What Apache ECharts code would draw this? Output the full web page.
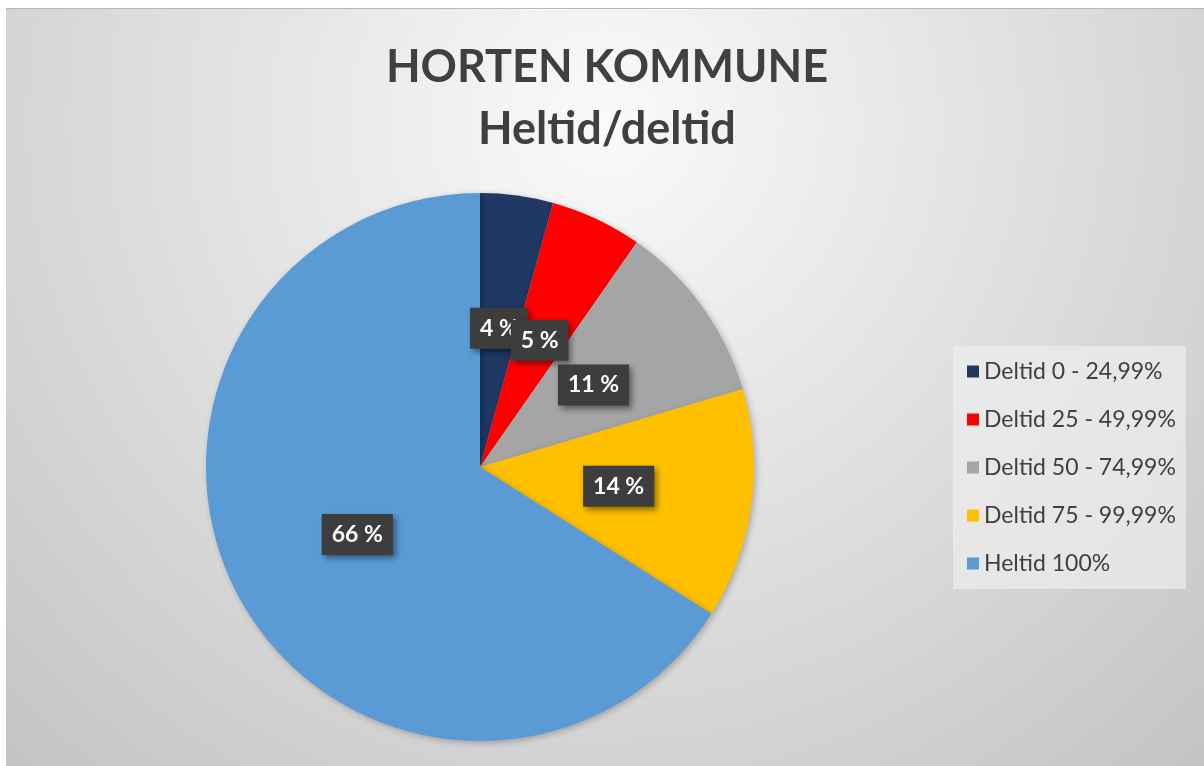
<!DOCTYPE html>
<html>
<head>
<meta charset="utf-8">
<script src="https://cdn.jsdelivr.net/npm/echarts@6/dist/echarts.min.js"></script>
<style>
  html, body { margin: 0; padding: 0; background: #fff; }
  #main-chart { position: absolute; left: 6px; top: 8px; width: 1198px; height: 758px; border-top: 1px solid #b8b8b8; box-sizing: border-box; }
</style>
</head>
<body>
<div id="main-chart"></div>
<script>
const categories = ['Deltid 0 - 24,99%', 'Deltid 25 - 49,99%', 'Deltid 50 - 74,99%', 'Deltid 75 - 99,99%', 'Heltid 100%']
const shares = [4.3, 5.4, 10.7, 13.6, 66.0]
const colors = ['#1f3864', '#ff0000', '#a5a5a5', '#ffc000', '#5b9bd5']

const FONT = 'Lato'
const $mainChart = document.querySelector('#main-chart')
const mainChart = echarts.init($mainChart)

const option = {
  backgroundColor: {
    type: 'radial', x: 0.5, y: 0.15, r: 1.15,
    colorStops: [
      { offset: 0, color: '#fafafa' },
      { offset: 1, color: '#c4c4c4' }
    ]
  },
  color: colors,
  title: {
    text: 'HORTEN KOMMUNE\nHeltid/deltid',
    left: 596,
    top: 22,
    textAlign: 'center',
    textStyle: {
      fontFamily: FONT,
      fontWeight: 'bold',
      fontSize: 45,
      lineHeight: 62,
      color: '#404040'
    }
  },
  legend: {
    orient: 'vertical',
    left: 947,
    top: 337,
    padding: [14, 10, 14, 14],
    itemWidth: 12,
    itemHeight: 12,
    itemGap: 25,
    icon: 'rect',
    backgroundColor: 'rgba(238,238,238,0.7)',
    textStyle: { fontFamily: FONT, fontSize: 23, lineHeight: 22, color: '#404040' },
    data: categories
  },
  series: [{
    type: 'pie',
    center: [474, 458],
    radius: 274,
    startAngle: 90,
    clockwise: true,
    avoidLabelOverlap: false,
    silent: true,
    animation: false,
    itemStyle: {
      shadowBlur: 6,
      shadowColor: 'rgba(0,0,0,0.25)',
      shadowOffsetX: 2,
      shadowOffsetY: 2
    },
    label: {
      show: true,
      position: 'inside',
      formatter: p => Math.round(p.value) + ' %',
      fontFamily: FONT,
      fontWeight: 'bold',
      fontSize: 23,
      color: '#ffffff',
      backgroundColor: '#3d3d3d',
      padding: [10, 10, 8, 10],
      shadowBlur: 6,
      shadowColor: 'rgba(0,0,0,0.45)',
      shadowOffsetX: 3,
      shadowOffsetY: 3
    },
    labelLine: { show: false },
    labelLayout: { hideOverlap: false },
    data: categories.map((name, i) => ({ name: name, value: shares[i] }))
  }]
}
mainChart.setOption(option)
</script>
</body>
</html>
